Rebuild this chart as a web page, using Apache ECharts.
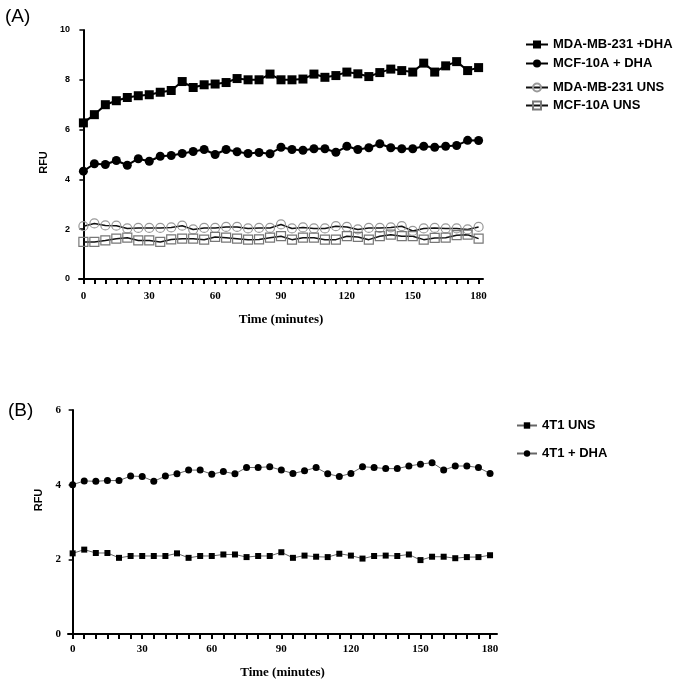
<!DOCTYPE html>
<html>
<head>
<meta charset="utf-8">
<script src="https://cdn.jsdelivr.net/npm/echarts@6/dist/echarts.min.js"></script>
<style>html,body{margin:0;padding:0;background:#fff;}#c{width:685px;height:690px;}</style>
</head>
<body>
<div id="c"></div>
<script>
// ---- data ----
var times = [0,5,10,15,20,25,30,35,40,45,50,55,60,65,70,75,80,85,90,95,100,105,110,115,120,125,130,135,140,145,150,155,160,165,170,175,180];
var xTickLabels = [0,30,60,90,120,150,180];
var yTicksA = [0,2,4,6,8,10];
var yTicksB = [0,2,4,6];

var mdaDHA = [6.27,6.6,7.0,7.16,7.29,7.36,7.4,7.5,7.57,7.93,7.69,7.8,7.83,7.89,8.05,8.0,8.0,8.23,8.0,8.0,8.03,8.23,8.1,8.17,8.31,8.24,8.13,8.29,8.43,8.37,8.31,8.67,8.31,8.56,8.73,8.37,8.49];
var mcfDHA = [4.33,4.63,4.6,4.76,4.57,4.83,4.73,4.93,4.96,5.04,5.12,5.2,5.0,5.2,5.11,5.04,5.08,5.03,5.29,5.2,5.17,5.23,5.23,5.09,5.33,5.2,5.27,5.43,5.27,5.23,5.23,5.33,5.29,5.33,5.36,5.57,5.56];
var mdaUNS = [2.12,2.23,2.15,2.14,2.03,2.05,2.05,2.05,2.07,2.14,1.99,2.05,2.05,2.09,2.09,2.03,2.05,2.05,2.19,2.03,2.07,2.03,2.03,2.12,2.09,1.99,2.05,2.05,2.07,2.12,1.93,2.03,2.05,2.03,2.03,1.99,2.09];
var mcfUNS = [1.49,1.49,1.55,1.62,1.66,1.55,1.55,1.49,1.59,1.62,1.62,1.58,1.69,1.66,1.62,1.58,1.59,1.66,1.72,1.58,1.66,1.66,1.58,1.58,1.72,1.69,1.58,1.72,1.78,1.72,1.72,1.58,1.65,1.66,1.76,1.78,1.62];
var t1UNS = [2.16,2.26,2.17,2.17,2.04,2.09,2.09,2.09,2.09,2.16,2.04,2.09,2.09,2.13,2.13,2.06,2.09,2.09,2.19,2.04,2.10,2.07,2.06,2.15,2.10,2.02,2.09,2.10,2.09,2.13,1.98,2.07,2.07,2.03,2.06,2.06,2.11];
var t1DHA = [4.0,4.10,4.09,4.11,4.11,4.23,4.22,4.09,4.23,4.29,4.39,4.39,4.28,4.35,4.29,4.46,4.46,4.48,4.39,4.30,4.37,4.46,4.29,4.22,4.30,4.48,4.46,4.43,4.43,4.50,4.55,4.59,4.39,4.50,4.50,4.46,4.30];

var namesA = ['MDA-MB-231 +DHA','MCF-10A + DHA','MDA-MB-231 UNS','MCF-10A UNS'];
var namesB = ['4T1 UNS','4T1 + DHA'];

function pairs(v){ return times.map(function(t,i){ return [t, v[i]]; }); }

var legendText = {fontFamily:'Liberation Sans', fontWeight:'bold', fontSize:13, color:'#000'};

function xAxisFor(gi, max, labelMargin, nameGap){
  return {
    gridIndex: gi, type:'value', min:-2, max:max,
    axisLine:{show:true, onZero:false, lineStyle:{color:'#000', width:2}},
    axisTick:{show:true, customValues: times, length:5, lineStyle:{color:'#000', width:2}},
    axisLabel:{customValues: xTickLabels, fontSize:11, margin:labelMargin, fontFamily:'Liberation Serif', fontWeight:'bold', color:'#000'},
    splitLine:{show:false},
    name:'Time (minutes)', nameLocation:'middle', nameGap:nameGap,
    nameTextStyle:{fontFamily:'Liberation Serif', fontWeight:'bold', fontSize:13, color:'#000'}
  };
}
function yAxisFor(gi, max, ticks, labelStyle, labelMargin, nameGap, namePad){
  return {
    gridIndex: gi, type:'value', min:0, max:max, interval: ticks[1]-ticks[0],
    axisLine:{show:true, lineStyle:{color:'#000', width:2}},
    axisTick:{show:true, length:4, lineStyle:{color:'#000', width:1.5}},
    axisLabel:Object.assign({margin:labelMargin}, labelStyle),
    splitLine:{show:false},
    name:'RFU', nameLocation:'middle', nameGap:nameGap, nameRotate:90,
    nameTextStyle:{fontFamily:'Liberation Sans', fontWeight:'bold', fontSize:11, color:'#000', padding:namePad}
  };
}

var chart = echarts.init(document.getElementById('c'), null, {renderer:'canvas'});
chart.setOption({
  backgroundColor:'#fff',
  animation:false,
  graphic:[
    {type:'text', left:5, top:7, style:{text:'(A)', font:'19px "Liberation Sans"', fill:'#000'}},
    {type:'text', left:8, top:401, style:{text:'(B)', font:'19px "Liberation Sans"', fill:'#000'}}
  ],
  grid:[
    {left:79, top:30, width:404, height:249},
    {left:68, top:410, width:429, height:224}
  ],
  xAxis:[ xAxisFor(0, 182, 12, 34), xAxisFor(1, 183, 10, 32) ],
  yAxis:[
    yAxisFor(0, 10, yTicksA, {fontFamily:'Liberation Sans', fontWeight:'bold', fontSize:9, color:'#000'}, 9, 30, [0,16,0,0]),
    yAxisFor(1, 6, yTicksB, {fontFamily:'Liberation Serif', fontWeight:'bold', fontSize:11, color:'#000'}, 7, 12, [0,0,0,44])
  ],
  legend:[
    {data:[namesA[0], namesA[1]], orient:'vertical', left:520, top:33, itemGap:6, itemWidth:22, itemHeight:10, textStyle:legendText, selectedMode:false},
    {data:[namesA[2], namesA[3]], orient:'vertical', left:520, top:76, itemGap:5, itemWidth:22, itemHeight:10, textStyle:legendText, selectedMode:false},
    {data:namesB, orient:'vertical', left:511, top:414, itemGap:15, itemWidth:20, itemHeight:8, textStyle:legendText, selectedMode:false}
  ],
  series:[
    {name:namesA[0], type:'line', xAxisIndex:0, yAxisIndex:0, data:pairs(mdaDHA), symbol:'rect', symbolSize:9,
      lineStyle:{color:'#000', width:2}, itemStyle:{color:'#000'}},
    {name:namesA[1], type:'line', xAxisIndex:0, yAxisIndex:0, data:pairs(mcfDHA), symbol:'circle', symbolSize:9,
      lineStyle:{color:'#000', width:2}, itemStyle:{color:'#000'}},
    {name:namesA[2], type:'line', xAxisIndex:0, yAxisIndex:0, data:pairs(mdaUNS), symbol:'circle', symbolSize:9,
      lineStyle:{color:'#111', width:1.5}, itemStyle:{color:'rgba(255,255,255,0)', borderColor:'#999', borderWidth:1.2}},
    {name:namesA[3], type:'line', xAxisIndex:0, yAxisIndex:0, data:pairs(mcfUNS), symbol:'rect', symbolSize:9,
      lineStyle:{color:'#111', width:1.5}, itemStyle:{color:'rgba(255,255,255,0)', borderColor:'#777', borderWidth:1.2}},
    {name:namesB[0], type:'line', xAxisIndex:1, yAxisIndex:1, data:pairs(t1UNS), symbol:'rect', symbolSize:6,
      lineStyle:{color:'#666', width:1}, itemStyle:{color:'#000'}},
    {name:namesB[1], type:'line', xAxisIndex:1, yAxisIndex:1, data:pairs(t1DHA), symbol:'circle', symbolSize:7,
      lineStyle:{color:'#666', width:1}, itemStyle:{color:'#000'}}
  ]
});
</script>
</body>
</html>
